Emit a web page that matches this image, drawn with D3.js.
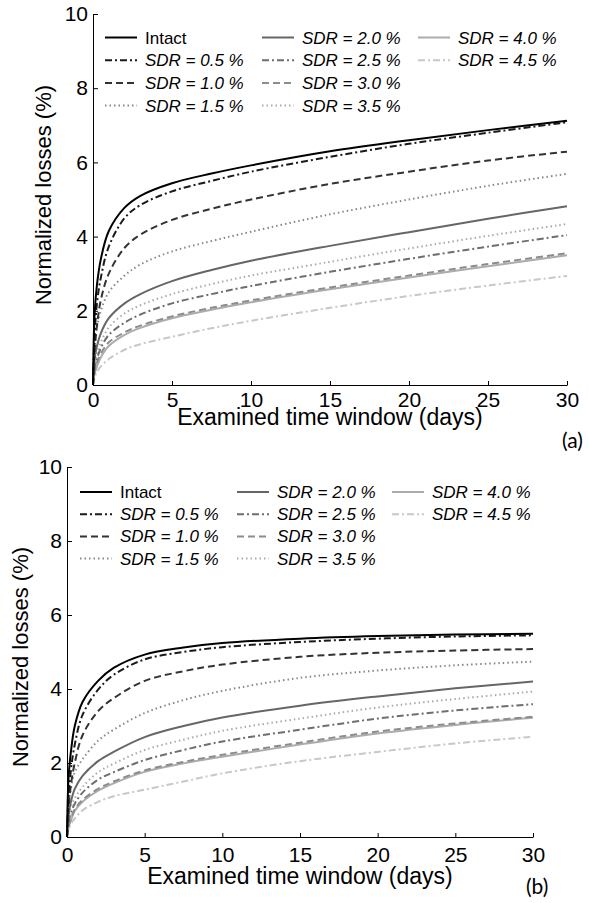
<!doctype html>
<html>
<head>
<meta charset="utf-8">
<script src="https://d3js.org/d3.v7.min.js"></script>
<style>
body { margin: 0; background: #fff; }
svg { display: block; font-family: "Liberation Sans", Arial, Helvetica, sans-serif; }
.axis text { font-size: 21px; fill: #000; }
.axis path, .axis line { stroke: #000; stroke-width: 1; }
</style>
</head>
<body>
<svg width="589" height="903"></svg>
<script>
var days = [0, 0.1, 0.25, 0.5, 1, 2, 3, 5, 7.5, 10, 15, 20, 25, 30];

var seriesNames = ["Intact", "SDR = 0.5 %", "SDR = 1.0 %", "SDR = 1.5 %", "SDR = 2.0 %",
                   "SDR = 2.5 %", "SDR = 3.0 %", "SDR = 3.5 %", "SDR = 4.0 %", "SDR = 4.5 %"];

var xTicks = [0, 5, 10, 15, 20, 25, 30];
var yTicks = [0, 2, 4, 6, 8, 10];

// panel (a)
var aIntact = [0, 1.9, 2.7, 3.4, 4.15, 4.78, 5.1, 5.44, 5.7, 5.92, 6.3, 6.6, 6.87, 7.12];
var aSdr05  = [0, 1.3, 2.2, 2.9, 3.73, 4.5, 4.85, 5.22, 5.5, 5.75, 6.15, 6.5, 6.8, 7.08];
var aSdr10  = [0, 0.9, 1.6, 2.3, 3.0, 3.7, 4.05, 4.45, 4.75, 5.0, 5.42, 5.75, 6.05, 6.29];
var aSdr15  = [0, 1.0, 1.55, 2.0, 2.5, 2.95, 3.25, 3.6, 3.88, 4.13, 4.6, 5.0, 5.37, 5.69];
var aSdr20  = [0, 0.7, 1.05, 1.4, 1.8, 2.2, 2.45, 2.8, 3.1, 3.35, 3.75, 4.12, 4.48, 4.82];
var aSdr25  = [0, 0.45, 0.7, 1.0, 1.35, 1.68, 1.9, 2.2, 2.45, 2.67, 3.05, 3.4, 3.73, 4.04];
var aSdr30  = [0, 0.35, 0.6, 0.85, 1.15, 1.42, 1.6, 1.85, 2.08, 2.28, 2.63, 2.95, 3.26, 3.55];
var aSdr35  = [0, 0.55, 0.85, 1.15, 1.55, 1.93, 2.15, 2.45, 2.72, 2.95, 3.32, 3.68, 4.02, 4.34];
var aSdr40  = [0, 0.3, 0.5, 0.75, 1.05, 1.35, 1.54, 1.8, 2.03, 2.23, 2.58, 2.9, 3.2, 3.5];
var aSdr45  = [0, 0.2, 0.35, 0.5, 0.7, 0.95, 1.1, 1.3, 1.53, 1.73, 2.08, 2.4, 2.68, 2.94];

// panel (b)
var bIntact = [0, 1.6, 2.3, 3.0, 3.65, 4.22, 4.57, 4.93, 5.12, 5.24, 5.36, 5.43, 5.47, 5.49];
var bSdr05  = [0, 1.1, 1.8, 2.5, 3.3, 3.98, 4.38, 4.8, 5.0, 5.13, 5.27, 5.36, 5.42, 5.45];
var bSdr10  = [0, 0.8, 1.4, 2.0, 2.75, 3.4, 3.75, 4.22, 4.48, 4.66, 4.87, 4.98, 5.04, 5.08];
var bSdr15  = [0, 0.8, 1.3, 1.75, 2.1, 2.6, 2.9, 3.35, 3.7, 3.95, 4.3, 4.5, 4.64, 4.74];
var bSdr20  = [0, 0.6, 0.95, 1.3, 1.65, 2.05, 2.3, 2.7, 3.0, 3.23, 3.55, 3.8, 4.02, 4.2];
var bSdr25  = [0, 0.4, 0.65, 0.9, 1.2, 1.55, 1.75, 2.08, 2.35, 2.58, 2.9, 3.2, 3.42, 3.59];
var bSdr30  = [0, 0.3, 0.5, 0.75, 1.0, 1.3, 1.5, 1.8, 2.03, 2.22, 2.55, 2.85, 3.07, 3.25];
var bSdr35  = [0, 0.5, 0.8, 1.05, 1.35, 1.75, 1.98, 2.35, 2.63, 2.87, 3.2, 3.5, 3.73, 3.93];
var bSdr40  = [0, 0.25, 0.45, 0.7, 0.95, 1.25, 1.45, 1.76, 1.99, 2.17, 2.5, 2.8, 3.03, 3.22];
var bSdr45  = [0, 0.2, 0.35, 0.5, 0.72, 0.95, 1.1, 1.28, 1.5, 1.72, 2.05, 2.3, 2.53, 2.71];

// line styles, same order as seriesNames
var colors = ["#000", "#1a1a1a", "#333", "#888", "#666", "#6e6e6e", "#8c8c8c", "#aaa", "#acacac", "#c8c8c8"];
var dashes = [null, "7,3,2,3", "7,4", "1.5,3", null, "7,3,2,3", "7,4", "1.5,3", null, "7,3,2,3"];

var svg = d3.select("svg");

function drawPanel(p) {
    var x = d3.scaleLinear().domain([0, 30]).range([p.left, p.right]);
    var y = d3.scaleLinear().domain([0, 10]).range([p.bottom, p.top]);

    var line = d3.line()
        .x(function(d, i) { return x(days[i]); })
        .y(function(d) { return y(d); })
        .curve(d3.curveCatmullRom.alpha(0.5));

    var g = svg.append("g");

    // curves, lightest first so dark ones stay on top
    for (var k = p.series.length - 1; k >= 0; k--) {
        g.append("path")
            .attr("d", line(p.series[k]))
            .attr("fill", "none")
            .attr("stroke", colors[k])
            .attr("stroke-width", 2)
            .attr("stroke-dasharray", dashes[k]);
    }

    g.append("g")
        .attr("class", "axis")
        .attr("transform", "translate(0," + p.bottom + ")")
        .call(d3.axisBottom(x).tickValues(xTicks).tickSizeInner(-4).tickSizeOuter(0).tickPadding(p.xPad));

    g.append("g")
        .attr("class", "axis")
        .attr("transform", "translate(" + p.left + ",0)")
        .call(d3.axisLeft(y).tickValues(yTicks).tickSizeInner(-5).tickSizeOuter(0).tickPadding(5));

    // axis titles
    g.append("text")
        .attr("x", (p.left + p.right) / 2)
        .attr("y", p.xTitleY)
        .attr("text-anchor", "middle")
        .style("font-size", "23px")
        .text("Examined time window (days)");

    g.append("text")
        .attr("transform", "translate(" + p.yTitleX + "," + p.yTitleY + ")rotate(-90)")
        .attr("text-anchor", "middle")
        .style("font-size", "22px")
        .text("Normalized losses (%)");

    g.append("text")
        .attr("x", p.tagX)
        .attr("y", p.tagY)
        .style("font-family", "Lato, 'Open Sans', sans-serif")
        .style("font-size", "21px")
        .text(p.tag);

    // legend: 3 columns, 4 rows
    seriesNames.forEach(function(name, k) {
        var col = Math.floor(k / 4), row = k % 4;
        var lx = p.legX[col], ly = p.legY + row * p.legStep;
        g.append("line")
            .attr("x1", lx).attr("x2", lx + 32)
            .attr("y1", ly).attr("y2", ly)
            .attr("stroke", colors[k])
            .attr("stroke-width", 2)
            .attr("stroke-dasharray", dashes[k]);
        g.append("text")
            .attr("x", lx + 40)
            .attr("y", ly + 6)
            .style("font-size", "17px")
            .style("font-style", k === 0 ? "normal" : "italic")
            .text(name);
    });
}

drawPanel({
    left: 93, right: 567, top: 14, bottom: 385,
    xPad: 7, xTitleY: 425, yTitleX: 51, yTitleY: 195,
    tag: "(a)", tagX: 562, tagY: 448,
    legX: [105, 262, 418], legY: 37.5, legStep: 22.7,
    series: [aIntact, aSdr05, aSdr10, aSdr15, aSdr20, aSdr25, aSdr30, aSdr35, aSdr40, aSdr45]
});

drawPanel({
    left: 67, right: 533, top: 467, bottom: 837,
    xPad: 10, xTitleY: 884, yTitleX: 28, yTitleY: 657,
    tag: "(b)", tagX: 526, tagY: 894,
    legX: [80, 237, 392], legY: 492, legStep: 22.2,
    series: [bIntact, bSdr05, bSdr10, bSdr15, bSdr20, bSdr25, bSdr30, bSdr35, bSdr40, bSdr45]
});
</script>
</body>
</html>
